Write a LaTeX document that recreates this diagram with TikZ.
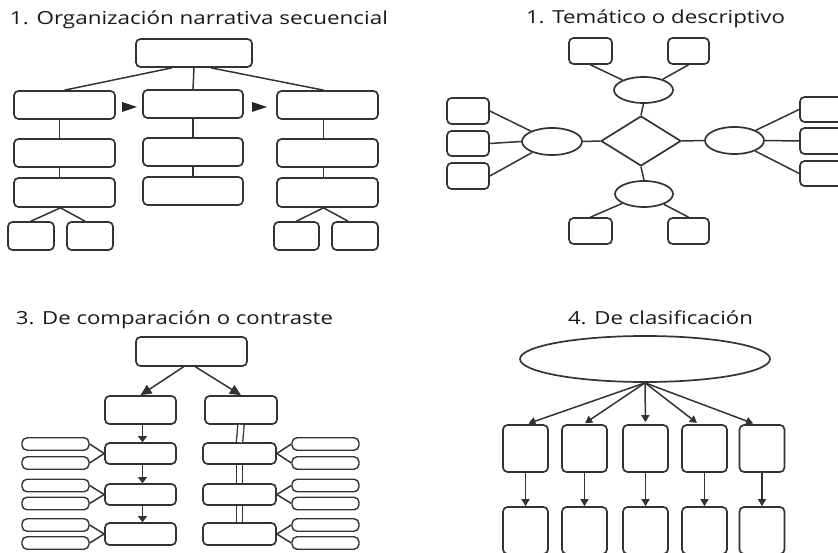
\documentclass[tikz,border=0pt]{standalone}
\usepackage{fontspec}
\setmainfont{Open Sans}
\usepackage{graphicx}
\usetikzlibrary{shapes.geometric,arrows.meta,calc}
\newlength\ttlen
\newcommand\fitw[2]{\settowidth\ttlen{#2}\scalebox{\fpeval{#1/\ttlen}}[1]{#2}}
\colorlet{ink}{black!80}
\begin{document}
\begin{tikzpicture}[x=1pt,y=-1pt,
  box/.style={draw=ink,line width=1.7pt,rounded corners=4.5pt,fill=white,inner sep=0pt},
  pill/.style={draw=ink,line width=1.4pt,rounded corners=5pt,fill=white,inner sep=0pt,minimum width=67pt,minimum height=12.5pt},
  ell/.style={draw=ink,line width=1.7pt,ellipse,fill=white,inner sep=0pt},
  dia/.style={draw=ink,line width=1.7pt,diamond,fill=white,inner sep=0pt},
  con/.style={draw=ink,line width=1.5pt},
  title/.style={font=\fontsize{18}{20}\selectfont,anchor=base,inner sep=0pt,text=black!90},
  bigtip/.style={con,-{Triangle[length=11pt,width=10pt]}},
  smalltip/.style={con,-{Triangle[length=6pt,width=9pt]}},
  midtip/.style={con,-{Triangle[length=7pt,width=8pt]}},
  dbl/.style={draw=ink,double=white,double distance=5pt,line width=1.3pt}
]
\useasboundingbox (0,0) rectangle (838,553);
\begin{scope}
\clip (0,0) rectangle (838,553);
% ---------- Panel 1 ----------
\node[title] (t1) at (199,25) {\fitw{378}{1. Organización narrativa secuencial}};
\node[box,minimum width=116pt,minimum height=28pt] (p1top) at (194,53) {};
\node[box,minimum width=101pt,minimum height=28pt] (p1a1) at (64.5,105) {};
\node[box,minimum width=100pt,minimum height=28pt] (p1b1) at (193,104) {};
\node[box,minimum width=101pt,minimum height=28pt] (p1c1) at (327.5,105) {};
\node[box,minimum width=101pt,minimum height=28pt] (p1a2) at (64.5,153) {};
\node[box,minimum width=100pt,minimum height=28pt] (p1b2) at (193,152) {};
\node[box,minimum width=101pt,minimum height=28pt] (p1c2) at (327.5,153) {};
\node[box,minimum width=101pt,minimum height=29pt] (p1a3) at (64.5,192.5) {};
\node[box,minimum width=100pt,minimum height=28pt] (p1b3) at (193,191) {};
\node[box,minimum width=101pt,minimum height=29pt] (p1c3) at (327.5,192.5) {};
\node[box,minimum width=46pt,minimum height=28pt] (p1a4l) at (31,236) {};
\node[box,minimum width=46pt,minimum height=28pt] (p1a4r) at (90,236) {};
\node[box,minimum width=45pt,minimum height=28pt] (p1c4l) at (296.5,236) {};
\node[box,minimum width=46pt,minimum height=28pt] (p1c4r) at (355,236) {};
\draw[con] ([xshift=-22pt]p1top.south) -- (p1a1.north);
\draw[con] (p1top.south) -- (p1b1.north);
\draw[con] ([xshift=17pt]p1top.south) -- ([xshift=-4pt]p1c1.north);
\draw[con] ([xshift=-5pt]p1a1.south) -- ([xshift=-5pt]p1a2.north);
\draw[con] ([xshift=-5pt]p1a2.south) -- ([xshift=-5pt]p1a3.north);
\draw[con] (p1b1.south) -- (p1b2.north);
\draw[con] (p1b2.south) -- (p1b3.north);
\draw[con] ([xshift=-4pt]p1c1.south) -- ([xshift=-4pt]p1c2.north);
\draw[con] ([xshift=-4pt]p1c2.south) -- ([xshift=-4pt]p1c3.north);
\draw[con] ([xshift=-4pt]p1a3.south) -- (p1a4l.north);
\draw[con] ([xshift=-4pt]p1a3.south) -- ([xshift=-5pt]p1a4r.north);
\draw[con] ([xshift=-4pt]p1c3.south) -- (p1c4l.north);
\draw[con] ([xshift=-4pt]p1c3.south) -- ([xshift=-7pt]p1c4r.north);
\fill[black!85] (122,102) -- (137,107) -- (122,112) -- cycle;
\fill[black!85] (252,102) -- (267,107) -- (252,112) -- cycle;
% ---------- Panel 2 ----------
\node[title] (t2) at (655.5,24) {\fitw{259}{1. Temático o descriptivo}};
\node[box,minimum width=43pt,minimum height=26pt] (p2tl) at (590.5,51) {};
\node[box,minimum width=41pt,minimum height=26pt] (p2tr) at (688.5,51) {};
\node[ell,minimum width=59pt,minimum height=26pt] (p2et) at (643.5,90) {};
\node[dia,minimum width=80pt,minimum height=50pt] (p2d) at (641,141) {};
\node[ell,minimum width=60pt,minimum height=27pt] (p2el) at (552,141.5) {};
\node[ell,minimum width=59pt,minimum height=27pt] (p2er) at (734.5,140.5) {};
\node[ell,minimum width=58pt,minimum height=26pt] (p2eb) at (644,194) {};
\node[box,minimum width=42pt,minimum height=26pt] (p2l1) at (468,111) {};
\node[box,minimum width=42pt,minimum height=25pt] (p2l2) at (468,143.5) {};
\node[box,minimum width=42pt,minimum height=26pt] (p2l3) at (468,176) {};
\node[box,minimum width=42pt,minimum height=25pt] (p2r1) at (821,109.5) {};
\node[box,minimum width=42pt,minimum height=26pt] (p2r2) at (821,141) {};
\node[box,minimum width=42pt,minimum height=25pt] (p2r3) at (821,173.5) {};
\node[box,minimum width=43pt,minimum height=26pt] (p2bl) at (590.5,231) {};
\node[box,minimum width=41pt,minimum height=26pt] (p2br) at (688.5,231) {};
\draw[con] (p2tl.south) -- (p2et);
\draw[con] (p2tr.south) -- (p2et);
\draw[con] (p2et.south) -- (p2d.north);
\draw[con] (p2d.west) -- (p2el.east);
\draw[con] (p2d.east) -- (p2er.west);
\draw[con] (p2d.south) -- (p2eb.north);
\draw[con] (p2l1.east) -- (p2el);
\draw[con] (p2l2.east) -- (p2el.west);
\draw[con] (p2l3.east) -- (p2el);
\draw[con] (p2r1.west) -- (p2er);
\draw[con] (p2r2.west) -- (p2er.east);
\draw[con] (p2r3.west) -- (p2er);
\draw[con] (p2bl.north) -- (p2eb);
\draw[con] (p2br.north) -- (p2eb);
% ---------- Panel 3 ----------
\node[title] (t3) at (174.5,324) {\fitw{317}{3. De comparación o contraste}};
\node[box,minimum width=111pt,minimum height=29pt] (p3top) at (191.5,351.5) {};
\node[box,minimum width=71pt,minimum height=28pt] (p3l) at (140.5,410) {};
\node[box,minimum width=72pt,minimum height=28pt] (p3r) at (241,410) {};
\node[box,minimum width=71pt,minimum height=21pt] (p3l1) at (140.5,453.5) {};
\node[box,minimum width=71pt,minimum height=21pt] (p3l2) at (140.5,494.5) {};
\node[box,minimum width=71pt,minimum height=22pt] (p3l3) at (140.5,534) {};
\node[box,minimum width=73pt,minimum height=21pt] (p3r1) at (239.5,453.5) {};
\node[box,minimum width=73pt,minimum height=21pt] (p3r2) at (239.5,494.5) {};
\node[box,minimum width=73pt,minimum height=22pt] (p3r3) at (239.5,534) {};
\node[pill] (p3a1) at (55.5,444) {};
\node[pill] (p3a2) at (55.5,463) {};
\node[pill] (p3a3) at (55.5,485.5) {};
\node[pill] (p3a4) at (55.5,503.5) {};
\node[pill] (p3a5) at (55.5,525) {};
\node[pill] (p3a6) at (55.5,543) {};
\node[pill] (p3b1) at (325.5,444) {};
\node[pill] (p3b2) at (325.5,463) {};
\node[pill] (p3b3) at (325.5,485.5) {};
\node[pill] (p3b4) at (325.5,503.5) {};
\node[pill] (p3b5) at (325.5,525) {};
\node[pill] (p3b6) at (325.5,543) {};
\draw[bigtip] ([xshift=-8pt]p3top.south) -- (p3l.north);
\draw[bigtip] ([xshift=4pt]p3top.south) -- (p3r.north);
\draw[smalltip] ([xshift=2pt]p3l.south) -- ([xshift=2pt]p3l1.north);
\draw[smalltip] ([xshift=2pt]p3l1.south) -- ([xshift=2pt]p3l2.north);
\draw[smalltip] ([xshift=2pt]p3l2.south) -- ([xshift=2pt]p3l3.north);
\draw[dbl] (p3r.south) -- (p3r1.north);
\draw[dbl] (p3r1.south) -- (p3r2.north);
\draw[dbl] (p3r2.south) -- (p3r3.north);
\foreach \i/\j in {1/1,2/1,3/2,4/2,5/3,6/3}{
  \draw[con] (p3a\i.east) -- (p3l\j.west);
  \draw[con] (p3b\i.west) -- (p3r\j.east);
}
% ---------- Panel 4 ----------
\node[title] (t4) at (660.5,324) {\fitw{185}{4. De clasificación}};
\node[ell,minimum width=250pt,minimum height=46pt] (p4e) at (645,359) {};
\foreach \k/\x in {1/525.5,2/584.5,3/645.5,4/704.5,5/762}{
  \node[box,minimum width=45pt,minimum height=47pt] (p4u\k) at (\x,448.5) {};
  \node[box,minimum width=45pt,minimum height=47pt] (p4d\k) at (\x,530.5) {};
  \draw[midtip] (p4u\k.south) -- (p4d\k.north);
}
\draw[midtip,shorten >=2pt] (p4e.south) -- ([xshift=1pt]p4u1.north);
\draw[midtip,shorten >=2pt] (p4e.south) -- ([xshift=-1pt]p4u2.north);
\draw[midtip,shorten >=2pt] (p4e.south) -- (p4u3.north);
\draw[midtip,shorten >=2pt] (p4e.south) -- ([xshift=-6pt]p4u4.north);
\draw[midtip,shorten >=2pt] (p4e.south) -- ([xshift=-7pt]p4u5.north);
\end{scope}
\end{tikzpicture}
\end{document}
